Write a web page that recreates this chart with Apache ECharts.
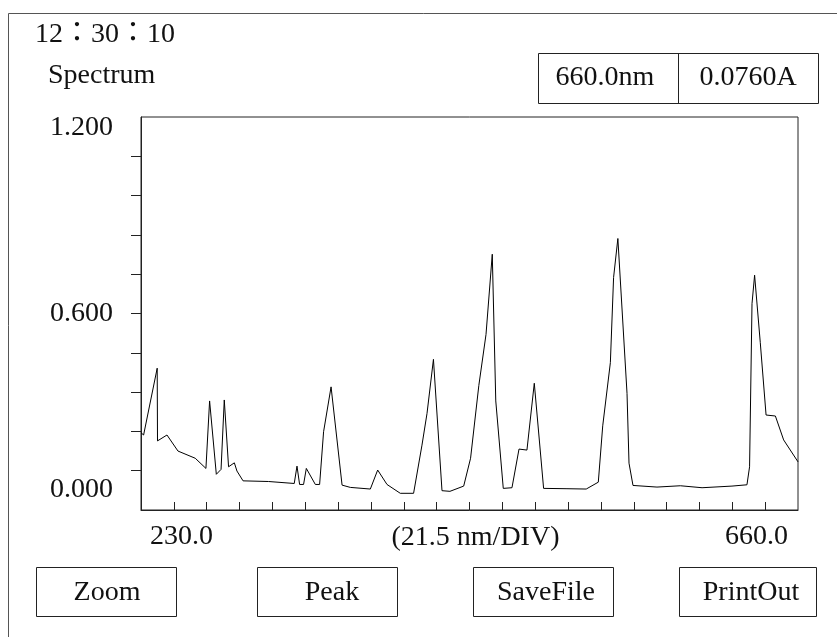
<!DOCTYPE html>
<html>
<head>
<meta charset="utf-8">
<script src="https://cdn.jsdelivr.net/npm/echarts@6/dist/echarts.min.js"></script>
<style>
  html, body { margin: 0; padding: 0; background: #fff; }
  #main { width: 837px; height: 637px; }
</style>
</head>
<body>
<div id="main"></div>
<script>
// spectrum data (nm, A)
var wavelength = [230.0, 231.7, 240.6, 240.8, 247.0, 254.2, 265.5, 272.5, 274.9, 279.3,
  282.4, 284.5, 287.3, 291.1, 292.8, 296.8, 313.5, 330.3, 332.1, 333.8,
  336.4, 338.2, 344.1, 346.9, 349.5, 354.4, 361.6, 367.0, 380.1, 384.9,
  391.0, 399.7, 408.4, 413.9, 417.2, 421.4, 427.0, 432.2, 441.2, 445.7,
  451.1, 455.8, 459.9, 462.2, 467.1, 472.8, 477.4, 482.6, 487.4, 493.5,
  508.8, 521.4, 529.3, 532.2, 537.2, 539.3, 542.1, 548.1, 549.4, 552.0,
  567.7, 583.0, 597.2, 616.8, 626.6, 628.3, 629.9, 631.6, 635.3, 639.1,
  645.2, 650.6, 660.0];
var absorbance = [0.236, 0.229, 0.433, 0.211, 0.229, 0.180, 0.158, 0.127, 0.333, 0.109,
  0.124, 0.336, 0.132, 0.144, 0.119, 0.089, 0.087, 0.081, 0.134, 0.078,
  0.078, 0.127, 0.078, 0.078, 0.239, 0.376, 0.076, 0.069, 0.064, 0.122,
  0.078, 0.051, 0.051, 0.198, 0.295, 0.460, 0.059, 0.057, 0.073, 0.158,
  0.380, 0.536, 0.781, 0.333, 0.066, 0.068, 0.186, 0.183, 0.387, 0.066,
  0.065, 0.064, 0.085, 0.257, 0.450, 0.710, 0.829, 0.356, 0.143, 0.075,
  0.070, 0.074, 0.068, 0.073, 0.077, 0.132, 0.630, 0.717, 0.512, 0.290,
  0.287, 0.214, 0.147];

// axis settings
var xMin = 230, xMax = 660, xStep = 21.5;
var yMin = 0, yMax = 1.2, yStep = 0.12;
var xLabelValues = [230, 660];
var yLabelValues = [0, 0.6, 1.2];
var xAxisName = '(21.5 nm/DIV)';

// screen texts
var timeText = '12\uff1a30\uff1a10';
var titleText = 'Spectrum';
var readout = ['660.0nm', '0.0760A'];
var buttons = ['Zoom', 'Peak', 'SaveFile', 'PrintOut'];

var FONT = "'Liberation Serif', 'Noto Sans CJK TC', serif";
var FS = 28;

var xTicks = [];
for (var i = 1; i < 20; i++) xTicks.push(xMin + xStep * i);
var yTicks = [];
for (var j = 1; j < 10; j++) yTicks.push(+(yStep * j).toFixed(2));

var seriesData = wavelength.map(function (w, k) { return [w, absorbance[k]]; });

var txt = { fontFamily: FONT, fontSize: FS, fill: '#111' };
function label(x, y, s, align) {
  return { type: 'text', x: x, y: y, style: Object.assign({ text: s, align: align || 'center', verticalAlign: 'middle' }, txt) };
}
function box(x, y, w, h) {
  return { type: 'rect', shape: { x: x + 0.5, y: y + 0.5, width: w, height: h }, style: { fill: 'none', stroke: '#222', lineWidth: 1 } };
}

var btnX = [36, 257, 473, 679];
var btnW = [140, 140, 140, 137];
var btnTextX = [107, 332, 546, 751];

var graphics = [
  { type: 'rect', shape: { x: 8.5, y: 13.5, width: 900, height: 700 }, style: { fill: 'none', stroke: '#555', lineWidth: 1 } },
  label(35, 35, timeText, 'left'),
  label(48, 76, titleText, 'left'),
  box(538, 53, 280, 50),
  { type: 'line', shape: { x1: 678.5, y1: 53, x2: 678.5, y2: 103 }, style: { stroke: '#222', lineWidth: 1 } },
  label(605, 78, readout[0]),
  label(748, 78, readout[1])
];
buttons.forEach(function (b, k) {
  graphics.push(box(btnX[k], 567, btnW[k], 49));
  graphics.push(label(btnTextX[k], 593, b));
});

var myChart = echarts.init(document.getElementById('main'));
var option = {
  animation: false,
  backgroundColor: '#fff',
  grid: {
    left: 141, top: 117, right: 39, bottom: 127,
    show: true, borderColor: '#222', borderWidth: 1, backgroundColor: 'transparent'
  },
  xAxis: {
    type: 'value', min: xMin, max: xMax,
    name: xAxisName, nameLocation: 'middle', nameGap: 14, nameMoveOverlap: false,
    nameTextStyle: { fontFamily: FONT, fontSize: FS, color: '#111', padding: [0, 0, 0, 12] },
    axisLine: { show: true, lineStyle: { color: '#222', width: 1 } },
    axisTick: { show: true, inside: true, length: 8, customValues: xTicks, lineStyle: { color: '#222' } },
    axisLabel: {
      customValues: xLabelValues, margin: 13,
      fontFamily: FONT, fontSize: FS, color: '#111',
      alignMinLabel: 'left', alignMaxLabel: 'right',
      formatter: function (v) {
        return v === xMin ? '{lo|' + v.toFixed(1) + '}' : '{hi|' + v.toFixed(1) + '}';
      },
      rich: {
        lo: { fontFamily: FONT, fontSize: FS, color: '#111', padding: [0, 0, 0, 9] },
        hi: { fontFamily: FONT, fontSize: FS, color: '#111', padding: [0, 10, 0, 0] }
      }
    },
    splitLine: { show: false }
  },
  yAxis: {
    type: 'value', min: yMin, max: yMax,
    axisLine: { show: true, lineStyle: { color: '#222', width: 1 } },
    axisTick: { show: true, inside: false, length: 10, customValues: yTicks, lineStyle: { color: '#222' } },
    axisLabel: {
      customValues: yLabelValues, margin: 28,
      formatter: function (v) {
        var s = v.toFixed(3);
        if (v === yMax) return '{top|' + s + '}';
        if (v === yMin) return '{bot|' + s + '}';
        return '{mid|' + s + '}';
      },
      rich: {
        top: { fontFamily: FONT, fontSize: FS, color: '#111', padding: [22, 0, 0, 0] },
        mid: { fontFamily: FONT, fontSize: FS, color: '#111' },
        bot: { fontFamily: FONT, fontSize: FS, color: '#111', padding: [0, 0, 40, 0] }
      }
    },
    splitLine: { show: false }
  },
  series: [{
    type: 'line',
    data: seriesData,
    showSymbol: false,
    lineStyle: { color: '#000', width: 1 },
    silent: true
  }],
  graphic: graphics
};
myChart.setOption(option, true);
</script>
</body>
</html>
